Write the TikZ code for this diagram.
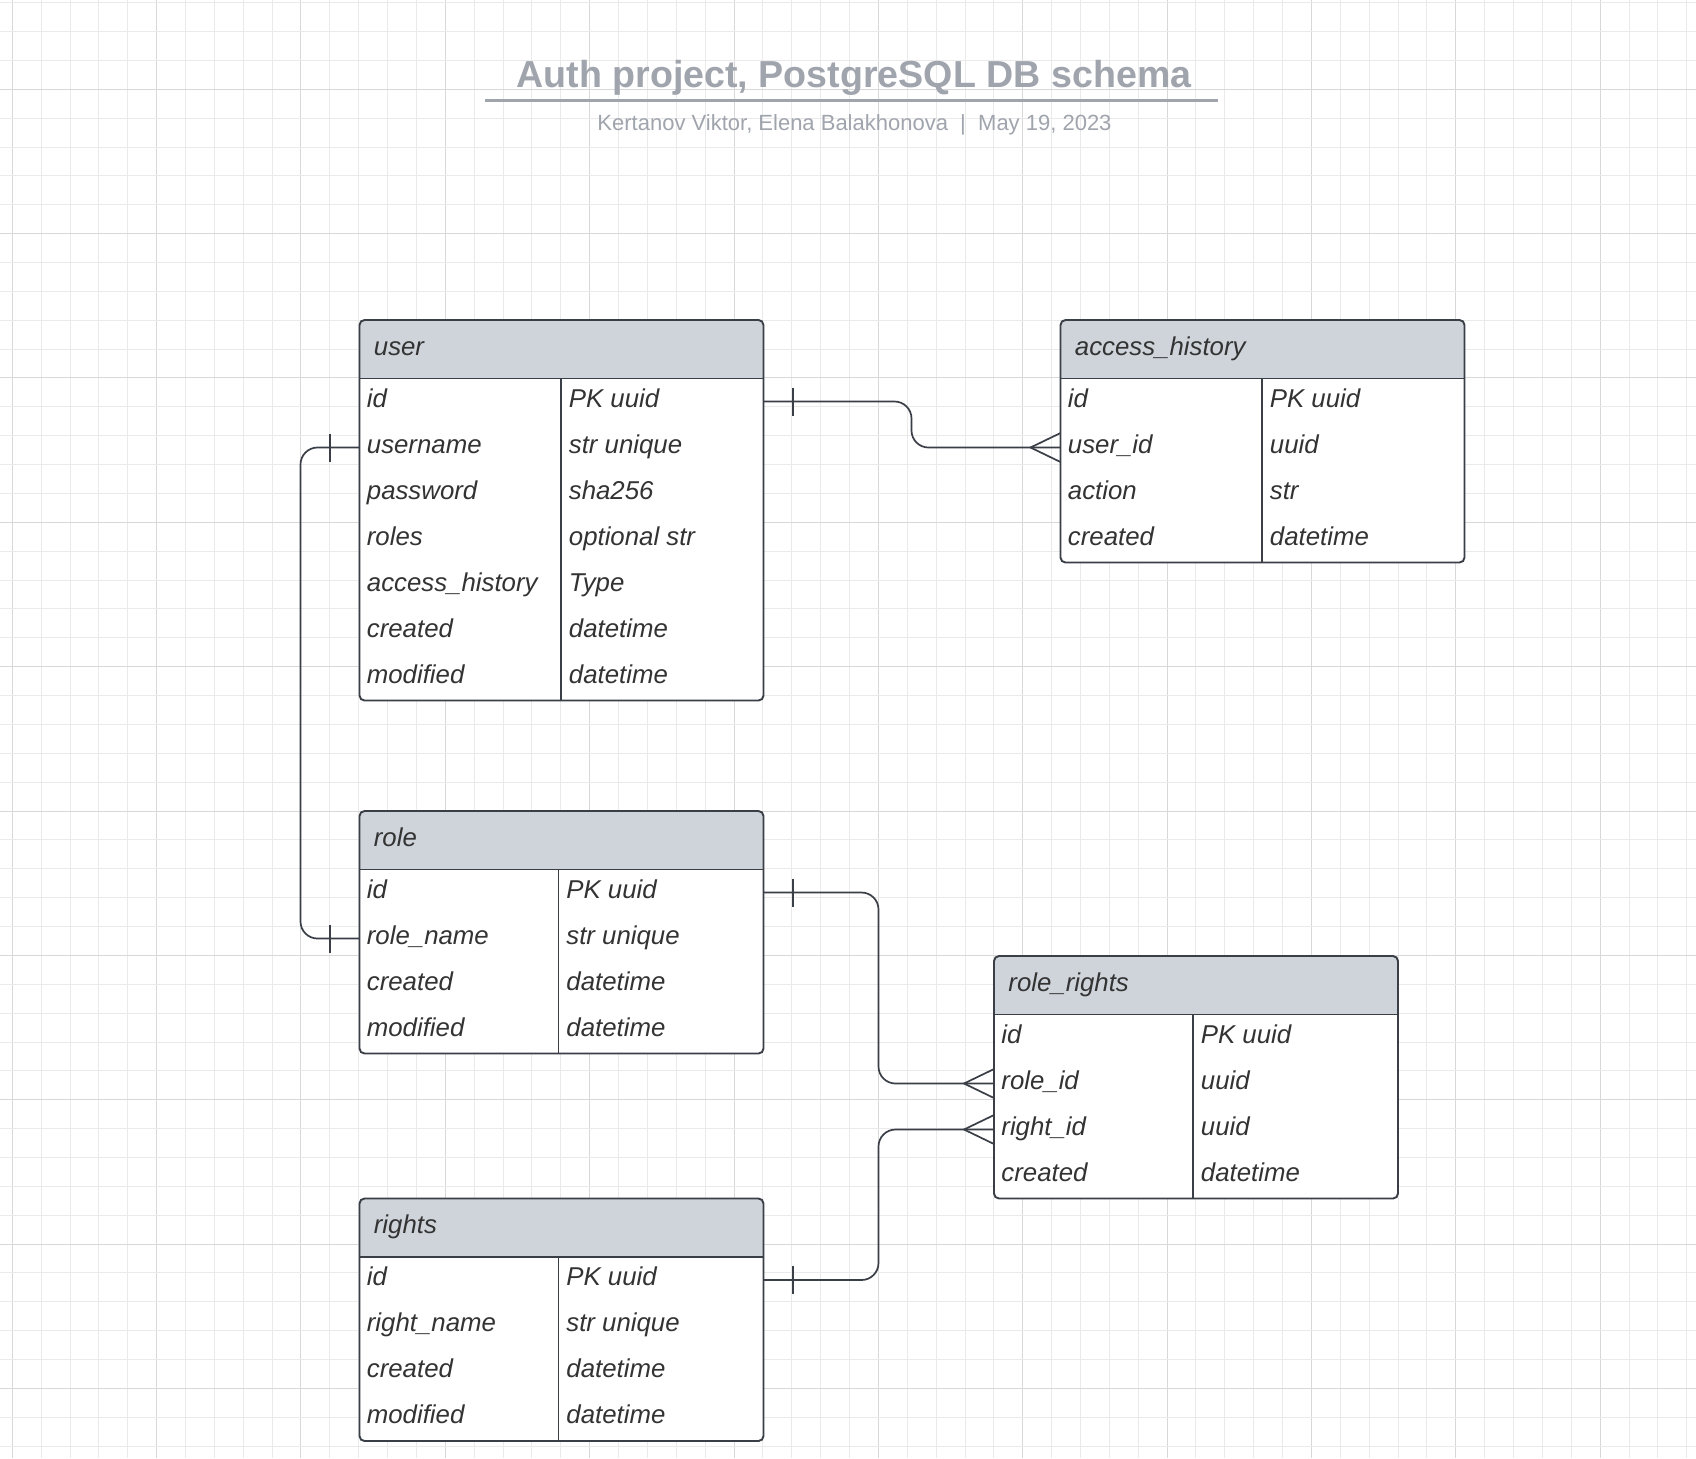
\documentclass[tikz,border=0pt]{standalone}
\usepackage{fontspec}
\setmainfont{Liberation Sans}
\definecolor{gridminor}{RGB}{234,234,234}
\definecolor{gridmajor}{RGB}{216,216,216}
\definecolor{headfill}{RGB}{207,212,219}
\definecolor{framecol}{RGB}{58,62,70}
\definecolor{txt}{RGB}{51,51,51}
\definecolor{titlecol}{RGB}{160,164,173}
\tikzset{
  frame/.style={draw=framecol, line width=0.95pt},
  conn/.style={draw=framecol, line width=0.85pt},
  celltext/.style={anchor=base west, inner sep=0pt, text=txt, font=\fontsize{12.9}{15}\selectfont\itshape},
  headtext/.style={anchor=base west, inner sep=0pt, text=txt, font=\fontsize{12.9}{15}\selectfont\itshape},
}
\newcommand{\erbox}[8]{%
  \pgfmathsetmacro{\erB}{#3+58.5+46*#6}%
  \pgfmathsetmacro{\erH}{#3+58.5}%
  \fill[white, rounded corners=2.5pt] (#2,#3) rectangle (#4,\erB);
  \fill[headfill, rounded corners=2.5pt] (#2,#3) rectangle (#4,\erH);
  \fill[headfill] (#2,#3+20) rectangle (#4,\erH);
  \draw[frame] (#2,\erH) -- (#4,\erH);
  \draw[frame] (#5,\erH) -- (#5,\erB);
  \draw[frame, rounded corners=2.5pt] (#2,#3) rectangle (#4,\erB);
  \node[headtext] (#1-title) at (#2+14,#3+35) {#7};
  \foreach \a/\b [count=\i] in {#8} {
    \node[celltext] (#1-\i-a) at (#2+7,\erH+46*\i-17.5) {\a};
    \node[celltext] (#1-\i-b) at (#5+7.5,\erH+46*\i-17.5) {\b};
    \coordinate (#1-\i W) at (#2,\erH+46*\i-23);
    \coordinate (#1-\i E) at (#4,\erH+46*\i-23);
  }
}
\newcommand{\tickR}[1]{\draw[conn] ([shift={(29.5,-14)}]#1) -- ([shift={(29.5,14)}]#1);}
\newcommand{\tickL}[1]{\draw[conn] ([shift={(-29.5,-14)}]#1) -- ([shift={(-29.5,14)}]#1);}
\newcommand{\crowfoot}[1]{\draw[conn] ([shift={(0,-14.5)}]#1) -- ([shift={(-30,0)}]#1) -- ([shift={(0,14.5)}]#1);}
\begin{document}
\begin{tikzpicture}[x=0.5pt,y=-0.5pt]
\useasboundingbox (0,0) rectangle (1696,1458);
\fill[white] (0,0) rectangle (1696,1458);
% grid
\foreach \k in {0,...,58} {
  \pgfmathsetmacro{\gx}{floor(12.3+28.87*\k)+0.5}
  \pgfmathtruncatemacro{\gm}{mod(\k,5)}
  \ifnum\gm=0
    \draw[gridmajor, line width=0.5pt] (\gx,0) -- (\gx,1458);
  \else
    \draw[gridminor, line width=0.5pt] (\gx,0) -- (\gx,1458);
  \fi
}
\foreach \k in {0,...,50} {
  \pgfmathsetmacro{\gy}{floor(2.69+28.87*\k)+0.5}
  \pgfmathtruncatemacro{\gm}{mod(\k,5)}
  \ifnum\gm=3
    \draw[gridmajor, line width=0.5pt] (0,\gy) -- (1696,\gy);
  \else
    \draw[gridminor, line width=0.5pt] (0,\gy) -- (1696,\gy);
  \fi
}
% title
\node[anchor=base, inner sep=0pt, text=titlecol, font=\fontsize{18.8}{22}\selectfont\bfseries] (title) at (854,87) {Auth project, PostgreSQL DB schema};
\draw[titlecol, line width=1.5pt] (485,100.5) -- (1218,100.5);
\node[anchor=base, inner sep=0pt, text=titlecol, font=\fontsize{11}{13}\selectfont] (subtitle) at (854.5,130.5) {Kertanov Viktor, Elena Balakhonova\ \ |\ \ May 19, 2023};
% tables
\erbox{user}{359.5}{320}{763.5}{561}{7}{user}{id/PK uuid, username/str unique, password/sha256, roles/optional str, access\_history/Type, created/datetime, modified/datetime}
\erbox{ah}{1060.5}{320}{1464.5}{1262}{4}{access\_history}{id/PK uuid, user\_id/uuid, action/str, created/datetime}
\erbox{role}{359.5}{811}{763.5}{558.5}{4}{role}{id/PK uuid, role\_name/str unique, created/datetime, modified/datetime}
\erbox{rr}{994}{956}{1398}{1193}{4}{role\_rights}{id/PK uuid, role\_id/uuid, right\_id/uuid, created/datetime}
\erbox{rights}{359.5}{1198.5}{763.5}{558.5}{4}{rights}{id/PK uuid, right\_name/str unique, created/datetime, modified/datetime}
% connectors
\draw[conn, rounded corners=8.5pt] (user-1E) -- ++(148,0) |- (ah-2W);
\tickR{user-1E}
\crowfoot{ah-2W}
\draw[conn, rounded corners=8.5pt] (user-2W) -- ++(-59,0) |- (role-2W);
\tickL{user-2W}
\tickL{role-2W}
\draw[conn, rounded corners=8.5pt] (role-1E) -- ++(115,0) |- (rr-2W);
\tickR{role-1E}
\crowfoot{rr-2W}
\draw[conn, rounded corners=8.5pt] (rights-1E) -- ++(115,0) |- (rr-3W);
\tickR{rights-1E}
\crowfoot{rr-3W}
\end{tikzpicture}
\end{document}
